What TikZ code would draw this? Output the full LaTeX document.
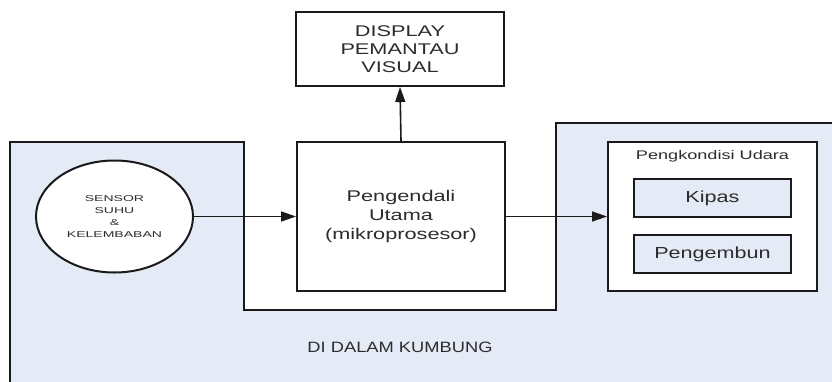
\documentclass[tikz,border=0pt]{standalone}
\usepackage{fontspec}
\setmainfont{Liberation Sans}
\newfontfamily\wfont[FakeStretch=1.4]{Liberation Sans}
\newfontfamily\kfont[FakeStretch=1.35]{Liberation Sans}
\newfontfamily\pfont[FakeStretch=1.45]{Liberation Sans}
\newfontfamily\snfont[FakeStretch=1.65]{Liberation Sans}
\newfontfamily\dfont[FakeStretch=1.22]{Liberation Sans}
\usetikzlibrary{shapes.geometric,arrows.meta}
\definecolor{regfill}{HTML}{E4EBF6}
\definecolor{ln}{HTML}{1A1A1A}
\definecolor{tx}{HTML}{2C2C2C}
\begin{document}
\begin{tikzpicture}[x=1pt,y=-1pt,
  box/.style={draw=ln,line width=2pt,fill=white,inner sep=0pt,align=center,text=tx},
  sub/.style={box,fill=regfill,line width=1.7pt,minimum width=157pt,minimum height=38pt,font=\kfont\fontsize{16}{19}\selectfont},
  arr/.style={draw=ln,line width=1.6pt,-{Triangle[length=15pt,width=10pt]}}]
\useasboundingbox (0,0) rectangle (832,381);
\begin{scope}
  \clip (0,0) rectangle (832,381);
  \draw[fill=regfill,draw=ln,line width=2pt]
    (10,400) -- (10,142) -- (244,142) -- (244,310) -- (556,310) -- (556,123) -- (850,123) -- (850,400) -- cycle;
\end{scope}
\node[box,minimum width=208pt,minimum height=74pt,font=\wfont\fontsize{15.5}{18}\selectfont] (disp) at (400,49) {DISPLAY\\PEMANTAU\\VISUAL};
\node[box,minimum width=208pt,minimum height=149pt,font=\wfont\fontsize{15.5}{19}\selectfont] (main) at (401,216.5) {Pengendali\\Utama\\(mikroprosesor)};
\node[box,ellipse,minimum width=157pt,minimum height=112pt,font=\snfont\fontsize{8.5}{12}\selectfont] (sensor) at (114.5,216.5) {SENSOR\\SUHU\\\&\\KELEMBABAN};
\node[box,minimum width=209pt,minimum height=149pt] (ac) at (712.5,216.5) {};
\node[text=tx,font=\pfont\fontsize{12.5}{15}\selectfont] (aclabel) at (712.5,156) {Pengkondisi Udara};
\node[sub] (kipas) at (712.5,198) {Kipas};
\node[sub] (embun) at (712.5,254) {Pengembun};
\node[text=tx,font=\dfont\fontsize{15}{18}\selectfont] (kumbung) at (400,347) {DI DALAM KUMBUNG};
\draw[arr] (sensor.east) -- (main.west);
\draw[arr] (main.north) -- (disp.south);
\draw[arr] (main.east) -- (ac.west);
\end{tikzpicture}
\end{document}
